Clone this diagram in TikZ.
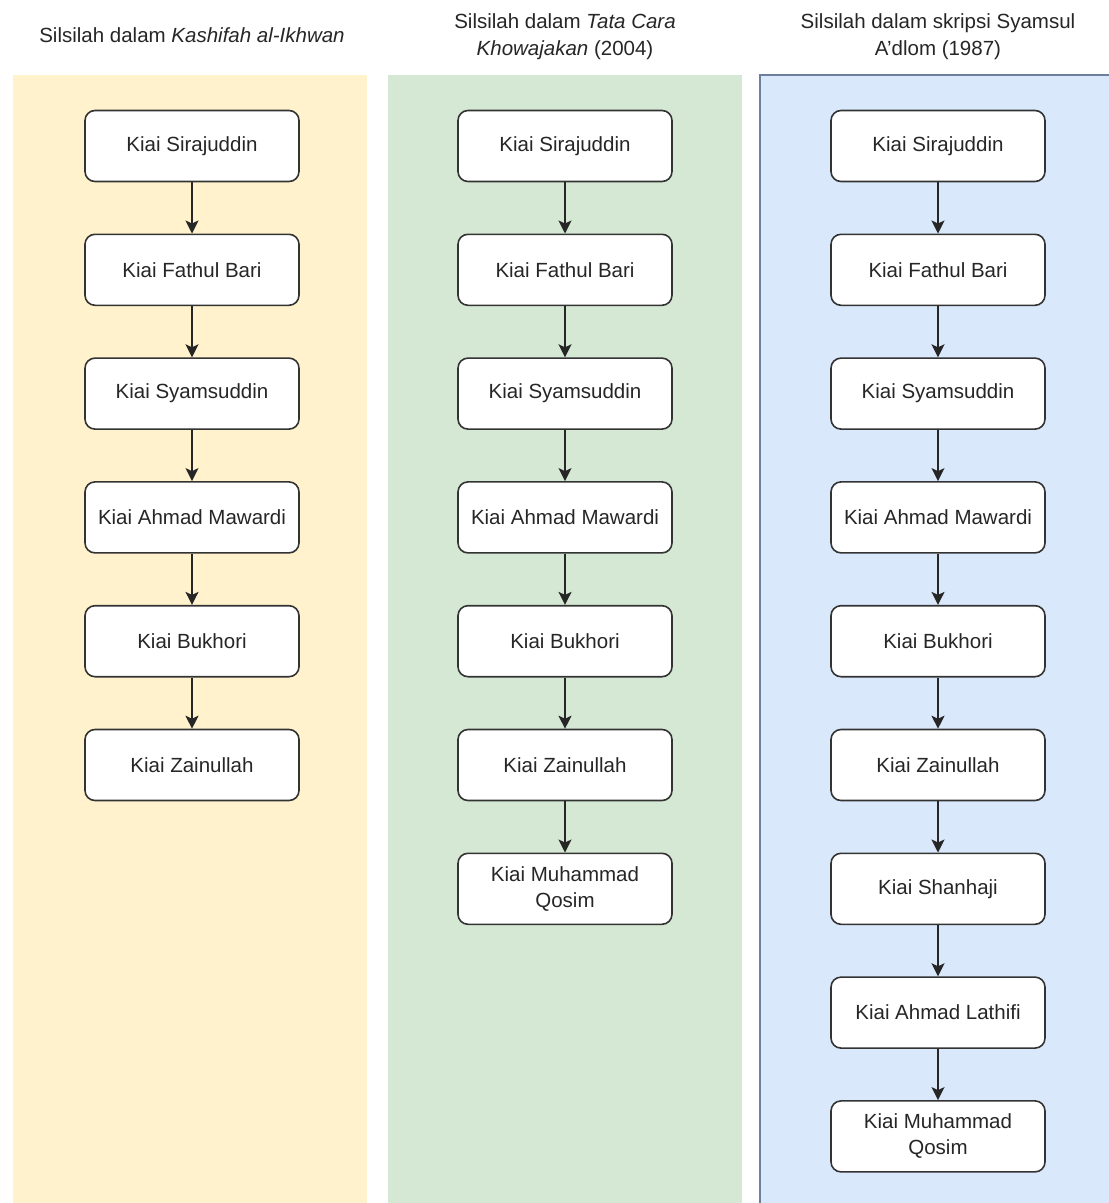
\documentclass[tikz,border=0pt]{standalone}
\usepackage{fontspec}
\setmainfont{Liberation Sans}
\usetikzlibrary{arrows.meta}
\definecolor{txt}{HTML}{262626}
\definecolor{yel}{HTML}{FFF2CC}
\definecolor{grn}{HTML}{D5E8D4}
\definecolor{blu}{HTML}{DAE8FC}
\definecolor{bluline}{HTML}{6C7F9C}
\definecolor{boxline}{HTML}{333333}
\tikzset{
  kbox/.style={draw=boxline, line width=1.6pt, fill=white, rounded corners=10pt,
    minimum width=214pt, minimum height=71pt, align=center, text=txt,
    font=\fontsize{20.5pt}{26pt}\selectfont, inner sep=0pt},
  title/.style={align=center, text=txt, font=\fontsize{20.5pt}{27pt}\selectfont, inner sep=0pt},
  link/.style={draw=black!85, line width=1.6pt, -{Stealth[length=13pt,width=13pt,inset=3pt]}}
}
\begin{document}
\begin{tikzpicture}[x=1pt,y=-1pt]
\useasboundingbox (0,0) rectangle (1109,1203);
% panels
\fill[yel] (13,75) rectangle (367,1215);
\fill[grn] (388,75) rectangle (742,1215);
\filldraw[fill=blu, draw=bluline, line width=1.5pt] (760,75) rectangle (1120,1215);
% titles
\node[title] (t1) at (192,35) {Silsilah dalam \textit{Kashifah al-Ikhwan}};
\node[title] (t2) at (565,37) {Silsilah dalam \textit{Tata Cara}\\\textit{Khowajakan} (2004)};
\node[title] (t3) at (938,37) {Silsilah dalam skripsi Syamsul\\A'dlom (1987)};
% column 1
\node[kbox] (a1) at (192,146) {Kiai Sirajuddin};
\node[kbox] (a2) at (192,269.8) {Kiai Fathul Bari};
\node[kbox] (a3) at (192,393.6) {Kiai Syamsuddin};
\node[kbox] (a4) at (192,517.4) {Kiai Ahmad Mawardi};
\node[kbox] (a5) at (192,641.2) {Kiai Bukhori};
\node[kbox] (a6) at (192,765) {Kiai Zainullah};
% column 2
\node[kbox] (b1) at (565,146) {Kiai Sirajuddin};
\node[kbox] (b2) at (565,269.8) {Kiai Fathul Bari};
\node[kbox] (b3) at (565,393.6) {Kiai Syamsuddin};
\node[kbox] (b4) at (565,517.4) {Kiai Ahmad Mawardi};
\node[kbox] (b5) at (565,641.2) {Kiai Bukhori};
\node[kbox] (b6) at (565,765) {Kiai Zainullah};
\node[kbox] (b7) at (565,888.8) {Kiai Muhammad\\Qosim};
% column 3
\node[kbox] (c1) at (938,146) {Kiai Sirajuddin};
\node[kbox] (c2) at (938,269.8) {Kiai Fathul Bari};
\node[kbox] (c3) at (938,393.6) {Kiai Syamsuddin};
\node[kbox] (c4) at (938,517.4) {Kiai Ahmad Mawardi};
\node[kbox] (c5) at (938,641.2) {Kiai Bukhori};
\node[kbox] (c6) at (938,765) {Kiai Zainullah};
\node[kbox] (c7) at (938,888.8) {Kiai Shanhaji};
\node[kbox] (c8) at (938,1012.6) {Kiai Ahmad Lathifi};
\node[kbox] (c9) at (938,1136.4) {Kiai Muhammad\\Qosim};
% connectors
\foreach \p/\q in {a1/a2,a2/a3,a3/a4,a4/a5,a5/a6,
  b1/b2,b2/b3,b3/b4,b4/b5,b5/b6,b6/b7,
  c1/c2,c2/c3,c3/c4,c4/c5,c5/c6,c6/c7,c7/c8,c8/c9}
  \draw[link] (\p) -- (\q);
\end{tikzpicture}
\end{document}
